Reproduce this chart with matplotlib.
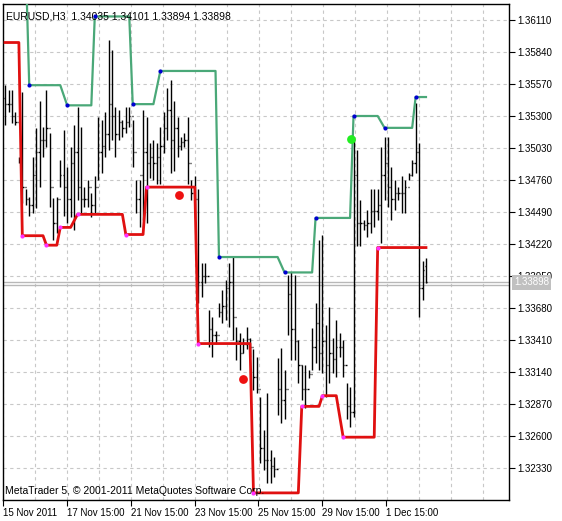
import numpy as np
import matplotlib
matplotlib.use("Agg")
import matplotlib.pyplot as plt
plt.rcParams['font.family'] = ['Liberation Sans', 'DejaVu Sans']

highs = [1.3556,1.3552,1.3552,1.3533,1.3495,1.3550,1.3468,1.3462,1.3495,1.3520,1.3543,1.3521,1.3552,1.3516,1.3461,1.3462,1.3493,1.3518,1.3487,1.3504,
         1.3522,1.3538,1.3521,1.3470,1.3476,1.3465,1.3479,1.3529,1.3527,1.3533,1.3594,1.3586,1.3538,1.3535,1.3527,1.3538,1.3538,1.3527,1.3476,1.3476,
         1.3535,1.3529,1.3507,1.3510,1.3507,1.3521,1.3533,1.3554,1.3560,1.3543,1.3529,1.3512,1.3516,1.3529,1.3476,1.3479,1.3468,1.3406,1.3406,1.3366,
         1.3360,1.3349,1.3372,1.3383,1.3392,1.3406,1.3411,1.3352,1.3347,1.3343,1.3352,1.3343,1.3333,1.3327,1.3293,1.3265,1.3296,1.3248,1.3242,1.3326,
         1.3334,1.3316,1.3396,1.3398,1.3396,1.3341,1.3320,1.3320,1.3316,1.3351,1.3372,1.3425,1.3430,1.3354,1.3369,1.3343,1.3358,1.3347,1.3341,1.3305,
         1.3301,1.3511,1.3501,1.3459,1.3442,1.3451,1.3468,1.3468,1.3468,1.3504,1.3512,1.3512,1.3487,1.3476,1.3470,1.3479,1.3476,1.3482,1.3493,1.3541,
         1.3507,1.3408,1.34101]
lows = [1.3522,1.3533,1.3524,1.3522,1.3490,1.3457,1.3455,1.3446,1.3448,1.3452,1.3470,1.3495,1.3504,1.3453,1.3425,1.3431,1.3470,1.3446,1.3440,1.3445,
        1.3434,1.3459,1.3448,1.3453,1.3453,1.3445,1.3448,1.3476,1.3482,1.3495,1.3501,1.3510,1.3495,1.3510,1.3512,1.3516,1.3521,1.3487,1.3448,1.3436,
        1.3442,1.3440,1.3478,1.3476,1.3473,1.3473,1.3499,1.3510,1.3482,1.3484,1.3495,1.3501,1.3504,1.3473,1.3459,1.3444,1.3372,1.3377,1.3389,1.3335,
        1.3327,1.3338,1.3360,1.3355,1.3358,1.3352,1.3341,1.3324,1.3316,1.3330,1.3333,1.3327,1.3299,1.3296,1.3237,1.3231,1.3220,1.3220,1.3225,1.3278,
        1.3271,1.3274,1.3345,1.3324,1.3324,1.3305,1.3290,1.3284,1.3309,1.3316,1.3322,1.3316,1.3313,1.3293,1.3305,1.3313,1.3310,1.3327,1.3310,1.3274,
        1.3268,1.3276,1.3420,1.3420,1.3434,1.3428,1.3431,1.3436,1.3442,1.3423,1.3459,1.3453,1.3442,1.3451,1.3459,1.3448,1.3448,1.3476,1.3479,1.3482,
        1.3360,1.3375,1.33894]
closes = [1.3540,1.3540,1.3530,1.3525,1.3492,1.3470,1.3460,1.3455,1.3480,1.3500,1.3510,1.3510,1.3520,1.3470,1.3440,1.3460,1.3480,1.3470,1.3460,1.3490,
          1.3500,1.3470,1.3460,1.3460,1.3470,1.3455,1.3470,1.3500,1.3505,1.3515,1.3540,1.3530,1.3515,1.3525,1.3520,1.3525,1.3530,1.3500,1.3460,1.3480,
          1.3500,1.3490,1.3495,1.3490,1.3495,1.3505,1.3520,1.3535,1.3510,1.3520,1.3505,1.3508,1.3510,1.3490,1.3465,1.3460,1.3390,1.3395,1.3395,1.3350,
          1.3345,1.3345,1.3365,1.3370,1.3385,1.3390,1.3360,1.3340,1.3330,1.3338,1.3342,1.3335,1.3310,1.3300,1.3250,1.3240,1.3240,1.3235,1.3232,1.3300,
          1.3290,1.3300,1.3380,1.3350,1.3340,1.3320,1.3300,1.3300,1.3312,1.3335,1.3355,1.3330,1.3340,1.3320,1.3330,1.3325,1.3335,1.3335,1.3320,1.3285,
          1.3280,1.3480,1.3440,1.3440,1.3438,1.3440,1.3450,1.3450,1.3455,1.3480,1.3490,1.3470,1.3460,1.3465,1.3465,1.3465,1.3470,1.3480,1.3490,1.3500,
          1.3385,1.3400,1.33898]
first_open = 1.3545
last_open = 1.34035

green_idx = [6, 7, 16, 18, 25, 26, 36, 37, 43, 45, 61, 62, 79, 81, 89, 90, 100, 101, 108, 110, 118, 119, 122]
green_val = [1.3660, 1.3556, 1.3556, 1.3539, 1.3539, 1.3614, 1.3614, 1.3540, 1.3540, 1.3568, 1.3568, 1.3411,
             1.3411, 1.3398, 1.3398, 1.3444, 1.3444, 1.3530, 1.3530, 1.3520, 1.3520, 1.3546, 1.3546]
green_dot_idx = [7, 18, 26, 37, 45, 62, 81, 90, 101, 110, 119]

red_idx = [0, 4, 5, 11, 12, 15, 16, 19, 21, 34, 35, 40, 41, 55, 56, 71, 72, 85, 86, 91, 92, 96, 98, 107, 108, 122]
red_val = [1.3592, 1.3592, 1.3429, 1.3429, 1.3421, 1.3421, 1.3436, 1.3436, 1.3447, 1.3447, 1.3430, 1.3430, 1.3470,
           1.3470, 1.3338, 1.3338, 1.3212, 1.3212, 1.3285, 1.3285, 1.3294, 1.3294, 1.3259, 1.3259, 1.3419, 1.3419]
red_dot_idx = [5, 12, 16, 21, 35, 41, 56, 72, 86, 92, 98, 108]

buy_signal = (100.3, 1.3511)
sell_signals = [(50.4, 1.3463), (69.0, 1.3308)]

ytick_vals = [1.36110, 1.35840, 1.35570, 1.35300, 1.35030, 1.34760, 1.34490, 1.34220, 1.33950,
              1.33680, 1.33410, 1.33140, 1.32870, 1.32600, 1.32330]
xtick_pos = [-0.6, 18.0, 36.5, 55.0, 73.3, 91.9, 110.4]
xtick_labels = ["15 Nov 2011", "17 Nov 15:00", "21 Nov 15:00", "23 Nov 15:00", "25 Nov 15:00", "29 Nov 15:00", "1 Dec 15:00"]
bid, ask = 1.33898, 1.33870

highs = np.array(highs); lows = np.array(lows); closes = np.array(closes)
opens = np.r_[first_open, closes[:-1]]
opens[-1] = last_open
n = len(highs)
x = np.arange(n)

fig = plt.figure(figsize=(5.62, 5.21), dpi=100)
ax = fig.add_axes([3/562, 21/521, 506/562, 496/521])
ax.set_xlim(-0.6, -0.6 + 506/3.45)
ax.set_ylim(1.3206, 1.36245)

for gx in np.arange(-0.6, 150, 9.27):
    ax.axvline(gx, color='#c8c8c8', lw=0.8, ls=(0, (3, 3)), zorder=0)
for gy in ytick_vals:
    ax.axhline(gy, color='#c8c8c8', lw=0.8, ls=(0, (3, 3)), zorder=0)

ax.vlines(x, lows, highs, color='black', lw=1, zorder=2)
ax.hlines(opens, x - 0.35, x, color='black', lw=1, zorder=2)
ax.hlines(closes, x, x + 0.35, color='black', lw=1, zorder=2)

ax.axhline(bid, color='#b8b8b8', lw=1, zorder=1)
ax.axhline(ask, color='#b8b8b8', lw=1, zorder=1)

ax.plot(green_idx, green_val, color='#4aa878', lw=1.6, zorder=3)
ax.plot(red_idx, red_val, color='#e01010', lw=2, zorder=3)
gd = np.interp(green_dot_idx, green_idx, green_val)
rd = np.interp(red_dot_idx, red_idx, red_val)
ax.scatter(green_dot_idx, gd, s=9, color='#0000d0', zorder=4, lw=0)
ax.scatter(red_dot_idx, rd, s=9, color='#ff30ff', zorder=4, lw=0)
ax.scatter([buy_signal[0]], [buy_signal[1]], s=40, color='#22ee22', zorder=5, lw=0)
ax.scatter([s[0] for s in sell_signals], [s[1] for s in sell_signals], s=40, color='#ee1111', zorder=5, lw=0)

ax.yaxis.tick_right()
ax.set_yticks(ytick_vals)
ax.set_yticklabels([f"{v:.5f}" for v in ytick_vals], fontsize=7)
ax.set_xticks(xtick_pos)
ax.set_xticklabels(xtick_labels, fontsize=7, ha='left')
ax.tick_params(axis='both', length=4, width=0.8, pad=2, colors='black')
for sp in ax.spines.values():
    sp.set_linewidth(1)

ax.text(1.01, bid, f"{bid:.5f}", transform=ax.get_yaxis_transform(), fontsize=7, color='white',
        va='center', ha='left', bbox=dict(boxstyle='square,pad=0.25', fc='#c0c0c0', ec='none'), zorder=6)
ax.text(0.006, 0.985, "EURUSD,H3  1.34035 1.34101 1.33894 1.33898", transform=ax.transAxes,
        fontsize=7.5, va='top', ha='left')
ax.text(0.004, 0.008, "MetaTrader 5, © 2001-2011 MetaQuotes Software Corp.", transform=ax.transAxes,
        fontsize=7.5, va='bottom', ha='left')

fig.savefig("out.png", dpi=100)
